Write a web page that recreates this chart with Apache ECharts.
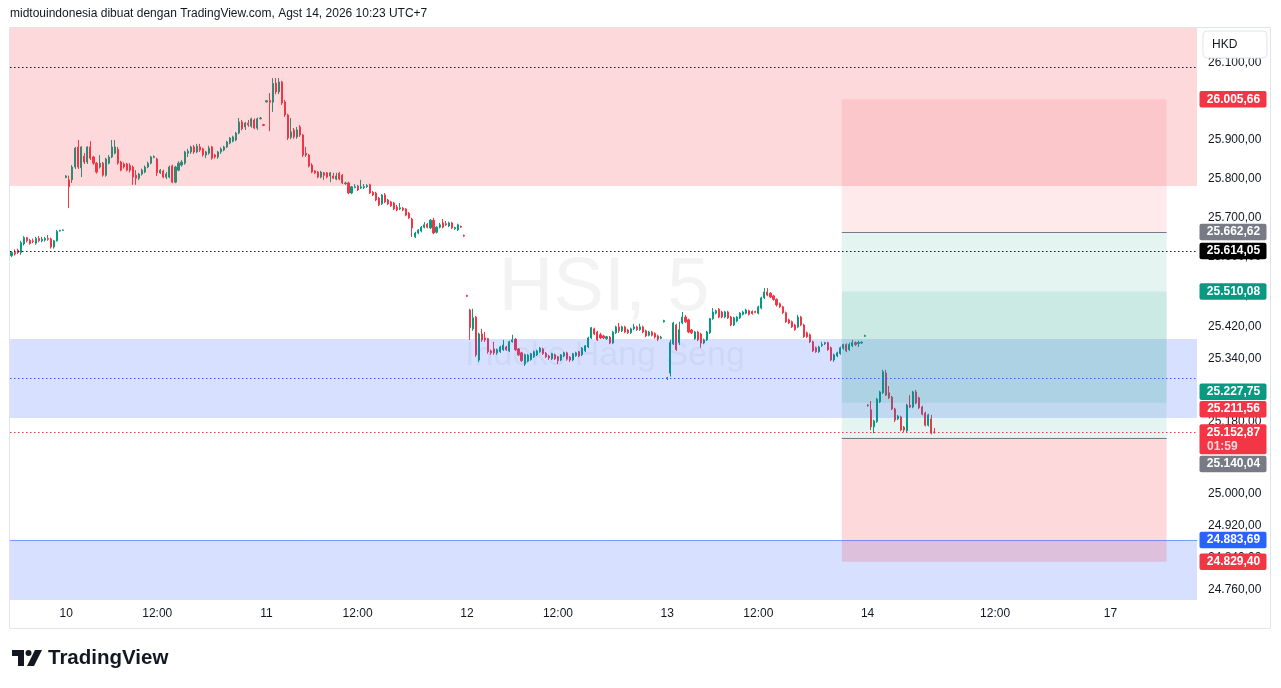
<!DOCTYPE html>
<html>
<head>
<meta charset="utf-8">
<script src="https://cdn.jsdelivr.net/npm/echarts@6/dist/echarts.min.js"></script>
<style>
html,body{margin:0;padding:0;background:#ffffff;}
#chart{width:1281px;height:688px;}
</style>
</head>
<body>
<div id="chart"></div>
<script>
// ---------- DATA (5-minute candles, [open, close, low, high]) ----------
const day07 = [
[25602,25610,25598,25612],[25610,25606,25602,25618],[25616,25610,25606,25620],[25610,25635,25604,25640],
[25632,25648,25628,25652],[25648,25640,25636,25650],[25641,25633,25630,25645],[25640,25638,25634,25646],
[25634,25646,25630,25650],[25646,25640,25636,25652],[25640,25644,25636,25650],[25642,25646,25638,25650],
[25646,25644,25640,25655],[25645,25624,25620,25648],[25624,25640,25620,25642],[25640,25664,25638,25668],
[25665,25667,25664,25668],[25667,25668,25666,25669]
];
const day10 = [
[25803,25807,25801,25809],[25797,25779,25724,25808],[25797,25830,25789,25835],[25830,25879,25825,25882],
[25882,25830,25825,25900],[25828,25882,25804,25884],[25858,25843,25838,25866],[25843,25882,25838,25884],
[25882,25853,25848,25897],[25856,25840,25836,25859],[25840,25817,25813,25843],[25830,25840,25826,25861],
[25840,25809,25805,25843],[25809,25851,25805,25854],[25840,25856,25837,25861],[25856,25882,25853,25900],
[25866,25882,25863,25900],[25876,25840,25836,25882],[25843,25822,25819,25846],[25838,25830,25826,25842],
[25838,25822,25819,25841],[25834,25822,25816,25840],[25830,25804,25784,25834],[25809,25801,25784,25822],
[25801,25812,25796,25815],[25812,25822,25808,25826],[25817,25830,25814,25834],[25830,25840,25827,25844],
[25840,25856,25837,25859],[25855,25857,25853,25860],
[25851,25815,25807,25854],[25815,25822,25812,25825],[25820,25804,25801,25823],[25804,25812,25799,25817],
[25804,25830,25801,25834],[25833,25791,25788,25836],[25791,25830,25788,25833],[25822,25840,25819,25845],
[25835,25843,25831,25848],[25840,25869,25836,25872],[25866,25871,25856,25877],[25869,25882,25864,25885],
[25882,25869,25864,25887],[25869,25884,25866,25890],[25882,25874,25869,25890],[25877,25861,25857,25880],
[25861,25869,25853,25872],[25866,25879,25862,25885],[25882,25853,25849,25885],[25861,25856,25852,25864],
[25856,25869,25851,25872],[25869,25877,25864,25881],[25874,25882,25871,25885],[25882,25895,25879,25898],
[25892,25905,25889,25908],[25897,25908,25894,25911],[25900,25918,25897,25921],[25918,25947,25915,25957],
[25947,25929,25925,25952],[25934,25944,25926,25947],[25944,25939,25934,25952],[25936,25955,25932,25958],
[25952,25931,25928,25956],[25931,25955,25926,25958],[25955,25957,25954,25960],[25940,25938,25936,25942]
];
const day11 = [
[25999,26002,25997,26004],[26003,25998,25923,26022],[25998,26047,25973,26061],[26048,26025,26019,26061],
[26025,26051,26019,26061],[26051,25996,25991,26054],[25999,25965,25960,26004],[25965,25905,25900,25968],
[25907,25921,25902,25957],[25926,25908,25903,25931],[25908,25926,25903,25934],[25934,25913,25908,25939],
[25913,25861,25856,25916],[25866,25861,25856,25882],[25861,25833,25829,25864],[25835,25817,25814,25840],
[25820,25815,25812,25822],[25817,25804,25801,25820],[25804,25817,25801,25820],[25815,25809,25797,25817],
[25815,25804,25801,25817],[25807,25815,25791,25817],[25807,25801,25799,25815],[25799,25807,25796,25815],
[25814,25799,25796,25817],[25809,25789,25786,25812],[25787,25789,25784,25792],[25789,25763,25760,25792],
[25763,25779,25760,25781],[25777,25779,25775,25786],
[25781,25771,25768,25784],[25776,25779,25773,25797],[25777,25780,25773,25786],[25779,25782,25776,25786],
[25784,25763,25760,25787],[25765,25758,25755,25768],[25763,25745,25742,25766],[25750,25732,25729,25753],
[25735,25758,25732,25760],[25758,25740,25737,25763],[25745,25735,25732,25748],[25740,25730,25727,25743],
[25737,25722,25719,25740],[25727,25719,25716,25732],[25722,25725,25719,25737],[25724,25719,25716,25727],
[25722,25706,25703,25724],[25711,25699,25696,25714],[25696,25673,25650,25699],[25650,25660,25647,25663],
[25660,25668,25657,25670],[25665,25675,25662,25678],[25675,25681,25672,25688],[25683,25675,25672,25686],
[25673,25693,25670,25696],[25693,25660,25657,25699],[25662,25675,25659,25678],[25675,25681,25672,25686],
[25686,25675,25672,25696],[25684,25681,25678,25691],[25678,25686,25675,25689],[25686,25673,25670,25689],
[25671,25674,25668,25676],[25668,25681,25665,25684],[25677,25675,25673,25679],[25654,25652,25650,25656]
];
const day12 = [
[25500,25498,25496,25502],[25463,25418,25387,25466],[25415,25443,25410,25466],[25445,25349,25344,25448],
[25336,25402,25331,25405],[25402,25387,25382,25415],[25392,25387,25382,25407],[25390,25357,25352,25392],
[25359,25354,25349,25362],[25364,25354,25349,25382],[25354,25362,25349,25365],[25357,25369,25354,25372],
[25362,25374,25359,25387],[25369,25362,25359,25372],[25359,25382,25356,25385],[25382,25387,25380,25400],
[25389,25362,25359,25392],[25364,25349,25346,25366],[25354,25334,25331,25357],[25326,25349,25321,25352],
[25333,25348,25330,25351],[25337,25352,25334,25354],[25344,25357,25341,25360],[25349,25359,25346,25362],
[25357,25366,25354,25369],[25364,25352,25349,25367],[25353,25344,25341,25356],[25346,25341,25336,25349],
[25339,25352,25336,25354],[25349,25339,25336,25352],
[25344,25334,25326,25346],[25336,25349,25333,25351],[25346,25354,25343,25357],[25354,25338,25334,25357],
[25343,25336,25331,25346],[25336,25352,25333,25354],[25347,25354,25344,25357],[25357,25346,25343,25359],
[25349,25366,25346,25369],[25359,25372,25356,25374],[25369,25392,25366,25395],[25392,25418,25389,25420],
[25415,25402,25399,25418],[25407,25387,25384,25410],[25400,25392,25389,25405],[25397,25392,25389,25400],
[25390,25395,25387,25397],[25394,25379,25376,25397],[25379,25407,25376,25410],[25405,25420,25402,25423],
[25420,25410,25405,25430],[25410,25420,25407,25423],[25420,25407,25404,25423],[25412,25405,25402,25415],
[25405,25415,25402,25418],[25415,25420,25412,25428],[25420,25413,25410,25423],[25413,25420,25410,25428],
[25420,25407,25404,25423],[25410,25397,25394,25413],[25399,25407,25396,25410],[25407,25399,25396,25410],
[25403,25394,25390,25406],[25397,25389,25384,25400],[25391,25394,25389,25397],[25433,25436,25431,25438]
];
const day13 = [
[25291,25289,25285,25293],[25303,25380,25294,25387],[25377,25430,25374,25433],[25425,25362,25359,25428],
[25380,25413,25374,25433],[25430,25445,25427,25458],[25445,25433,25430,25450],[25438,25407,25404,25441],
[25412,25405,25402,25415],[25390,25407,25387,25410],[25407,25387,25384,25410],[25402,25379,25367,25405],
[25379,25387,25376,25390],[25387,25407,25384,25410],[25405,25441,25402,25443],[25441,25458,25438,25468],
[25455,25461,25452,25464],[25465,25445,25442,25468],[25458,25445,25442,25461],[25445,25458,25442,25461],
[25458,25443,25440,25461],[25445,25425,25422,25448],[25425,25443,25422,25446],[25435,25445,25432,25448],
[25443,25455,25440,25458],[25452,25458,25449,25461],[25455,25463,25452,25466],[25461,25452,25449,25464],
[25459,25454,25451,25462],[25459,25457,25455,25461],
[25455,25471,25452,25474],[25468,25494,25465,25497],[25494,25509,25491,25519],[25509,25501,25498,25519],
[25506,25496,25493,25509],[25499,25490,25487,25502],[25490,25476,25472,25493],[25479,25471,25468,25482],
[25471,25456,25453,25474],[25456,25433,25430,25459],[25438,25430,25427,25441],[25433,25420,25417,25436],
[25425,25413,25410,25428],[25420,25445,25417,25451],[25445,25425,25422,25448],[25425,25395,25392,25428],
[25405,25395,25392,25408],[25400,25382,25379,25403],[25382,25359,25356,25385],[25367,25357,25354,25370],
[25357,25369,25354,25372],[25373,25375,25369,25382],[25377,25380,25374,25382],[25380,25362,25359,25382],
[25367,25336,25333,25370],[25336,25349,25331,25352],[25346,25354,25343,25357],[25352,25367,25349,25370],
[25366,25375,25362,25377],[25375,25359,25356,25378],[25362,25375,25359,25380],[25372,25380,25369,25387],
[25380,25375,25372,25383],[25378,25380,25369,25385],[25379,25381,25377,25383],[25396,25398,25395,25400]
];
const day14 = [
[25222,25220,25218,25224],[25210,25167,25159,25232],[25167,25182,25151,25185],[25180,25237,25177,25240],
[25230,25255,25227,25258],[25253,25306,25250,25311],[25303,25247,25245,25311],[25253,25240,25237,25270],
[25242,25212,25209,25245],[25212,25184,25179,25215],[25187,25194,25184,25197],[25192,25159,25156,25195],
[25166,25159,25154,25169],[25157,25222,25154,25225],[25222,25217,25214,25247],[25217,25255,25214,25258],
[25255,25227,25224,25260],[25240,25215,25212,25243],[25217,25199,25196,25220],[25202,25171,25168,25205],
[25171,25197,25168,25200],[25187,25151,25148,25197],[25154,25152.87,25150,25164]
];

// sessions (UTC+7): [day, first bar minute, last bar minute]
const sessions = [
  [7, 810, 895],
  [10, 510, 655], [10, 720, 895],
  [11, 510, 655], [11, 720, 895],
  [12, 510, 655], [12, 720, 895],
  [13, 510, 655], [13, 720, 895],
  [14, 510, 905],
  [17, 510, 650]
];

// price-scale tick labels
const yTickLabels = [24760, 24840, 24920, 25000, 25080, 25180, 25260, 25340, 25420, 25500, 25600, 25700, 25800, 25900, 26000, 26100];

// drawings
const bandPinkTop = [25781, 26400];
const bandBlueMid = [25189, 25389];
const bandBlueLow = [24500, 24883.69];
const dottedBlack = [26090, 25614.05];
const dottedBlue = [25290];
const lastPrice = [25152.87];
const blueLine = [24883.69];
const shortPos = [25662.62, 26005.66, 25227.75];   // entry, stop, target
const longPos = [25140.04, 24829.40, 25510.08];    // entry, stop, target
const positionSpan = ['13 14:20', '17 10:00'];
const countdown = '01:59';

// right-scale price tags
const tagPrices = [26005.66, 25662.62, 25614.05, 25510.08, 25227.75, 25211.56, 25152.87, 25140.04, 24883.69, 24829.40];

// ---------- STYLE ----------
const UP = '#089981', DOWN = '#F23645';
const tagColors = ['#F23645', '#787B86', '#000000', '#089981', '#089981', '#F23645', '#F23645', '#787B86', '#2962FF', '#F23645'];
const tagNudge = [0, 0, 0, 0, -11, 0, 0, 26.5, 0, 0];
const FONT = '"Liberation Sans", Arial, sans-serif';

// ---------- BUILD ----------
function pad(n){ return (n < 10 ? '0' : '') + n; }
const categories = [];
sessions.forEach(function(s){
  for (let m = s[1]; m <= s[2]; m += 5) categories.push(s[0] + ' ' + pad(Math.floor(m / 60)) + ':' + pad(m % 60));
});
const lastIdx = categories.length - 1;
const candles = [].concat(day07, day10, day11, day12, day13, day14);

function fmt(v){
  const s = v.toFixed(2).split('.');
  return s[0].replace(/\B(?=(\d{3})+(?!\d))/g, '.') + ',' + s[1];
}

const ps = categories.indexOf(positionSpan[0]);
const pe = categories.indexOf(positionSpan[1]);

const bandData = [
  [0, lastIdx, bandPinkTop[0], bandPinkTop[1]],
  [0, lastIdx, bandBlueMid[0], bandBlueMid[1]],
  [0, lastIdx, bandBlueLow[0], bandBlueLow[1]]
];
const bandFills = ['rgba(242,54,69,0.19)', 'rgba(41,98,255,0.19)', 'rgba(41,98,255,0.19)'];

const posData = [
  [ps, pe, shortPos[0], shortPos[1]],
  [ps, pe, shortPos[2], shortPos[0]],
  [ps, pe, longPos[0], longPos[2]],
  [ps, pe, longPos[1], longPos[0]]
];
const posFills = ['rgba(242,54,69,0.11)', 'rgba(8,153,129,0.11)', 'rgba(8,153,129,0.11)', 'rgba(242,54,69,0.19)'];

const lineData = [
  [0, lastIdx, dottedBlack[0]],
  [0, lastIdx, dottedBlack[1]],
  [0, lastIdx, dottedBlue[0]],
  [0, lastIdx, lastPrice[0]],
  [0, lastIdx, blueLine[0]],
  [ps, pe, shortPos[0]],
  [ps, pe, longPos[0]]
];
const lineStyles = [
  {stroke: '#131722', lineDash: [1.5, 2.5]},
  {stroke: '#131722', lineDash: [1.5, 2.5]},
  {stroke: '#2962FF', lineDash: [1.5, 2.5]},
  {stroke: '#F23645', lineDash: [1.5, 2.5]},
  {stroke: 'rgba(41,98,255,0.55)', lineDash: null},
  {stroke: '#787B86', lineDash: null},
  {stroke: '#787B86', lineDash: null}
];

function rectRenderer(fills){
  return function(params, api){
    const cs = params.coordSys;
    const bw = api.size([1, 0])[0];
    const a = api.coord([api.value(0), api.value(3)]);
    const b = api.coord([api.value(1), api.value(2)]);
    const shape = echarts.graphic.clipRectByRect(
      {x: a[0] - bw / 2, y: a[1], width: b[0] - a[0] + bw, height: b[1] - a[1]},
      {x: cs.x, y: cs.y, width: cs.width, height: cs.height});
    if (!shape) return null;
    return {type: 'rect', shape: shape, style: {fill: fills[params.dataIndex]}};
  };
}

const chart = echarts.init(document.getElementById('chart'), null, {renderer: 'canvas'});

const option = {
  animation: false,
  backgroundColor: '#ffffff',
  grid: {left: 10, right: 84, top: 28, bottom: 88, containLabel: false},
  xAxis: {
    type: 'category',
    data: categories,
    boundaryGap: true,
    axisLine: {show: false},
    axisTick: {show: false},
    splitLine: {show: false},
    axisLabel: {
      color: '#131722',
      fontSize: 12,
      fontFamily: FONT,
      margin: 8,
      interval: function(i, v){ return /( 08:30| 12:00)$/.test(v); },
      formatter: function(v){ return / 08:30$/.test(v) ? v.split(' ')[0] : v.split(' ')[1]; }
    }
  },
  yAxis: {
    type: 'log',
    logBase: 10,
    position: 'right',
    min: 24734.5,
    max: 26192,
    axisLine: {show: false},
    axisTick: {show: false},
    axisLabel: {show: false},
    splitLine: {show: false}
  },
  series: [
    {
      type: 'candlestick',
      data: candles,
      z: 2,
      barWidth: 1.6,
      itemStyle: {color: UP, color0: DOWN, borderColor: UP, borderColor0: DOWN, borderWidth: 1}
    },
    {
      type: 'custom', z: 3, silent: true,
      data: bandData,
      encode: {x: [0, 1], y: [2, 3]},
      renderItem: rectRenderer(bandFills)
    },
    {
      type: 'custom', z: 4, silent: true,
      data: posData,
      encode: {x: [0, 1], y: [2, 3]},
      renderItem: rectRenderer(posFills)
    },
    {
      type: 'custom', z: 5, silent: true,
      data: lineData,
      encode: {x: [0, 1], y: 2},
      renderItem: function(params, api){
        const bw = api.size([1, 0])[0];
        const a = api.coord([api.value(0), api.value(2)]);
        const b = api.coord([api.value(1), api.value(2)]);
        const y = Math.round(a[1]) + 0.5;
        const st = lineStyles[params.dataIndex];
        return {type: 'line', shape: {x1: a[0] - bw / 2, y1: y, x2: b[0] + bw / 2, y2: y},
          style: {stroke: st.stroke, lineWidth: 1, lineDash: st.lineDash}};
      }
    },
    {
      type: 'custom', z: 9, silent: true, clip: false,
      data: yTickLabels.map(function(v){ return [0, v]; }),
      encode: {x: 0, y: 1},
      renderItem: function(params, api){
        const cs = params.coordSys;
        const y = api.coord([0, api.value(1)])[1];
        return {type: 'text', style: {x: cs.x + cs.width + 11, y: y, text: fmt(api.value(1)),
          fill: '#131722', font: '12px ' + FONT, align: 'left', verticalAlign: 'middle'}};
      }
    },
    {
      type: 'custom', z: 10, silent: true, clip: false,
      data: tagPrices.map(function(v){ return [0, v]; }),
      encode: {x: 0, y: 1},
      renderItem: function(params, api){
        const cs = params.coordSys;
        const i = params.dataIndex;
        const price = api.value(1);
        const y = api.coord([0, price])[1] + tagNudge[i];
        const x = cs.x + cs.width + 2.5;
        const withTimer = price === lastPrice[0];
        const h = withTimer ? 30 : 16.5;
        const children = [
          {type: 'rect', shape: {x: x, y: y - 8.25, width: 67, height: h, r: 2}, style: {fill: tagColors[i]}},
          {type: 'text', style: {x: x + 34, y: y, text: fmt(price), fill: '#ffffff', font: 'bold 12px ' + FONT, align: 'center', verticalAlign: 'middle'}}
        ];
        if (withTimer) children.push({type: 'text', style: {x: x + 7.5, y: y + 14.5, text: countdown, fill: 'rgba(255,255,255,0.8)', font: 'bold 12px ' + FONT, align: 'left', verticalAlign: 'middle'}});
        return {type: 'group', children: children};
      }
    }
  ],
  graphic: [
    {type: 'text', z: 0, silent: true, style: {x: 604, y: 289, text: 'HSI, 5', fill: 'rgba(19,23,34,0.05)', font: '76px ' + FONT, align: 'center', verticalAlign: 'middle'}},
    {type: 'text', z: 0, silent: true, style: {x: 605, y: 356, text: 'Indeks Hang Seng', fill: 'rgba(19,23,34,0.05)', font: '34px ' + FONT, align: 'center', verticalAlign: 'middle'}},
    {type: 'text', z: 100, silent: true, style: {x: 10, y: 14, text: 'midtouindonesia dibuat dengan TradingView.com, Agst 14, 2026 10:23 UTC+7', fill: '#131722', font: '12px ' + FONT, align: 'left', verticalAlign: 'middle'}},
    {type: 'rect', z: 100, silent: true, shape: {x: 9.5, y: 27.5, width: 1261, height: 601}, style: {fill: 'none', stroke: '#E0E3EB', lineWidth: 1}},
    {type: 'rect', z: 100, silent: true, shape: {x: 1203, y: 31, width: 64, height: 27, r: 4}, style: {fill: '#ffffff', stroke: '#E0E3EB', lineWidth: 1}},
    {type: 'text', z: 101, silent: true, style: {x: 1212, y: 44.5, text: 'HKD', fill: '#131722', font: '12px ' + FONT, align: 'left', verticalAlign: 'middle'}},
    {type: 'polygon', z: 100, silent: true, shape: {points: [[12, 650], [24, 650], [24, 666], [18, 666], [18, 656], [12, 656]]}, style: {fill: '#131722'}},
    {type: 'circle', z: 100, silent: true, shape: {cx: 28.5, cy: 653, r: 3}, style: {fill: '#131722'}},
    {type: 'polygon', z: 100, silent: true, shape: {points: [[35, 650], [42, 650], [34, 666], [27, 666]]}, style: {fill: '#131722'}},
    {type: 'text', z: 100, silent: true, style: {x: 48, y: 658, text: 'TradingView', fill: '#131722', font: 'bold 20.5px ' + FONT, align: 'left', verticalAlign: 'middle'}}
  ]
};
chart.setOption(option);
</script>
</body>
</html>
